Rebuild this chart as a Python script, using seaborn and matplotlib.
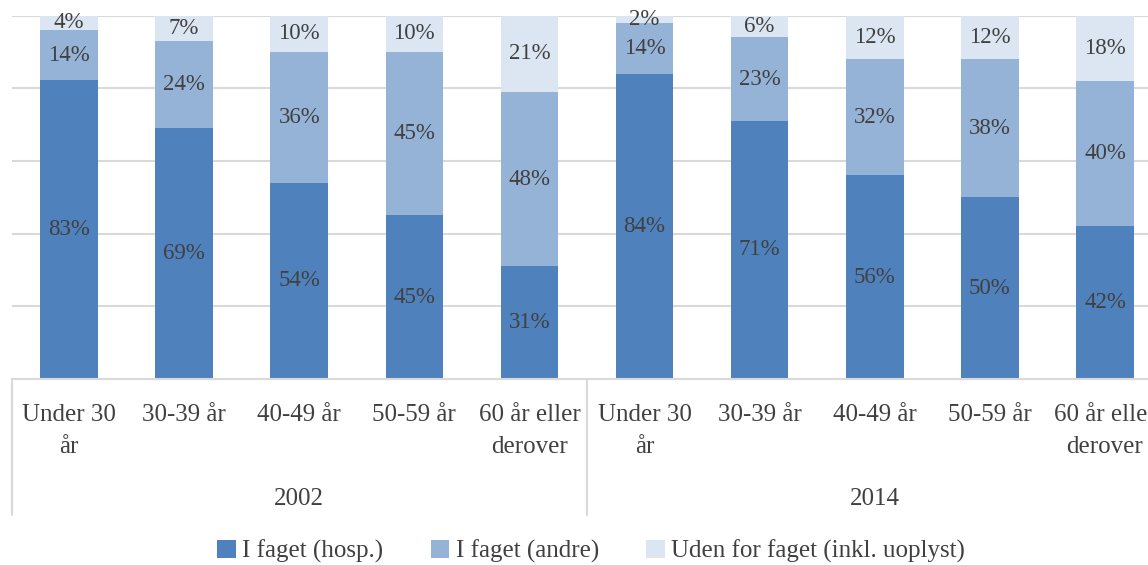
import numpy as np
import pandas as pd
import matplotlib.pyplot as plt
import matplotlib.transforms as mtransforms
from matplotlib.patches import Patch
import seaborn as sns

years = ['2002', '2014']
ages = ['Under 30\når', '30-39 år', '40-49 år', '50-59 år', '60 år eller\nderover']
series = ['I faget (hosp.)', 'I faget (andre)', 'Uden for faget (inkl. uoplyst)']

hosp_2002 = [83, 69, 54, 45, 31]
andre_2002 = [14, 24, 36, 45, 48]
uden_2002 = [4, 7, 10, 10, 21]
hosp_2014 = [84, 71, 56, 50, 42]
andre_2014 = [14, 23, 32, 38, 40]
uden_2014 = [2, 6, 12, 12, 18]

colors = ['#4f81bd', '#95b3d7', '#dce6f2']
text_color = '#404040'
grid_color = '#d9d9d9'


def build_frame():
    rows = []
    for year, hosp, andre, uden in [('2002', hosp_2002, andre_2002, uden_2002),
                                    ('2014', hosp_2014, andre_2014, uden_2014)]:
        for age, h, a, u in zip(ages, hosp, andre, uden):
            rows.append({'year': year, 'age': age, 'key': year + ' ' + age,
                         series[0]: h, series[1]: a, series[2]: u})
    df = pd.DataFrame(rows)
    total = df[series].sum(axis=1)
    # 100% stacked: normalise each bar
    for s in series:
        df[s + '_n'] = df[s] / total * 100
    df['c0'] = df[series[0] + '_n']
    df['c1'] = df['c0'] + df[series[1] + '_n']
    df['c2'] = df['c1'] + df[series[2] + '_n']
    return df


def plot(df):
    sns.set_theme(style='white')
    plt.rcParams['font.family'] = ['Liberation Serif', 'DejaVu Serif']
    fig = plt.figure(figsize=(11.48, 5.65), dpi=100)
    ax = fig.add_axes([11.5 / 1148, 186 / 565, 1151 / 1148, 363.5 / 565])

    order = list(df['key'])
    for col, color in zip(['c2', 'c1', 'c0'], colors[::-1]):
        sns.barplot(data=df, x='key', y=col, order=order, color=color,
                    width=0.5, saturation=1, ax=ax, edgecolor='none')

    ax.set_xlim(-0.5, 9.5)
    ax.set_ylim(0, 100)
    ax.set_yticks([20, 40, 60, 80, 100])
    ax.yaxis.grid(True, color=grid_color, linewidth=1.5)
    ax.set_axisbelow(True)
    ax.tick_params(axis='y', left=False, labelleft=False)
    ax.set_xlabel('')
    ax.set_ylabel('')
    for side in ['top', 'right', 'left']:
        ax.spines[side].set_visible(False)
    ax.spines['bottom'].set_color(grid_color)
    ax.spines['bottom'].set_linewidth(1.5)

    ax.set_xticks(range(len(order)))
    ax.set_xticklabels(list(df['age']), fontsize=18, color=text_color,
                       linespacing=1.6)
    ax.tick_params(axis='x', bottom=False, pad=12)

    # segment labels
    for i, r in df.iterrows():
        lows = [0, r['c0'], r['c1']]
        highs = [r['c0'], r['c1'], r['c2']]
        for s, lo, hi in zip(series, lows, highs):
            ax.text(i, (lo + hi) / 2, f"{r[s]}%", ha='center', va='center',
                    fontsize=16.5, color=text_color)

    # group labels and separators
    trans = mtransforms.blended_transform_factory(ax.transData, ax.transAxes)
    for x in [-0.5, 4.5, 9.5]:
        ax.plot([x, x], [0, -0.374], transform=trans, color=grid_color,
                linewidth=1.5, clip_on=False)
    for gi, year in enumerate(years):
        ax.text(gi * 5 + 2, -0.33, year, transform=trans, ha='center',
                va='center', fontsize=18, color=text_color)

    handles = [Patch(facecolor=c, edgecolor='none') for c in colors]
    fig.legend(handles, series, loc='center', bbox_to_anchor=(0.515, 0.024),
               ncol=3, frameon=False, fontsize=18, handlelength=0.75,
               handleheight=0.75, handletextpad=0.25, columnspacing=1.9,
               labelcolor=text_color)

    fig.savefig('out.png', dpi=100)


def main():
    df = build_frame()
    plot(df)


if __name__ == "__main__":
    main()
